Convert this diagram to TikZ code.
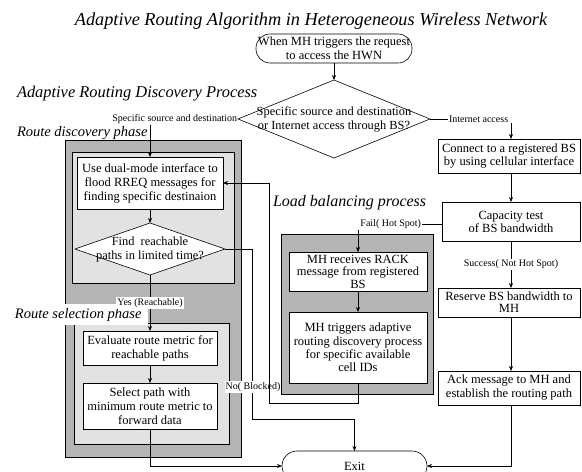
\documentclass[tikz,border=0pt]{standalone}
\usepackage{fontspec}
\setmainfont{Liberation Serif}
\usetikzlibrary{arrows.meta,shapes.geometric}
\definecolor{boxgray}{RGB}{180,180,180}
\definecolor{dotfill}{RGB}{226,226,226}
\begin{document}
\begin{tikzpicture}[x=1pt,y=-1pt,
  every node/.style={inner sep=0pt, outer sep=0pt},
  fbox/.style={draw, fill=white, align=center, font=\fontsize{12.5}{14}\selectfont, line width=0.6pt},
  term/.style={fbox, rounded corners=14pt},
  dshape/.style={draw, fill=white, shape=diamond, line width=0.6pt},
  dtext/.style={align=center, font=\fontsize{12.4}{14.5}\selectfont},
  lbl/.style={font=\fontsize{10}{12}\selectfont, inner sep=1pt},
  wlbl/.style={lbl, fill=white},
  head/.style={anchor=base west},
  arr/.style={-{Stealth[length=5pt,width=4pt]}, line width=0.6pt},
  ln/.style={line width=0.6pt},
  grayarea/.style={draw, fill=boxgray, line width=0.6pt},
  dotarea/.style={draw, fill=dotfill, line width=0.6pt}
]
\useasboundingbox (0,0) rectangle (582,472);
\clip (0,0) rectangle (582,472);

% shaded areas
\draw[grayarea] (65,140) rectangle (241,457);
\draw[dotarea] (72,152) rectangle (234,283);
\draw[dotarea] (74,323) rectangle (229,444);
\draw[grayarea] (281,234) rectangle (433,394);

% headings
\node[anchor=base, font=\itshape\fontsize{18.3}{20}\selectfont] (title) at (311,25) {Adaptive Routing Algorithm in Heterogeneous Wireless Network};
\node[head, font=\itshape\fontsize{16.4}{18}\selectfont] (hadp) at (17,97) {Adaptive Routing Discovery Process};
\node[head, font=\itshape\fontsize{14.5}{16}\selectfont] (hrd) at (17,136) {Route discovery phase};
\node[head, font=\itshape\fontsize{14.5}{16}\selectfont, fill=white, inner xsep=7pt, inner ysep=4pt] (hrs) at (8,318) {Route selection phase};
\node[head, font=\itshape\fontsize{16}{18}\selectfont] (hlb) at (273,206) {Load balancing process};

% nodes
\node[term, minimum width=156pt, minimum height=29pt] (start) at (334,48.5) {When MH triggers the request\\to access the HWN};
\node[dshape, minimum width=192pt, minimum height=78pt] (d1) at (334,119) {};
\node[dtext] (d1t) at (334,119.5) {Specific source and destination\\or Internet access through BS?};

\node[fbox, minimum width=146pt, minimum height=52pt] (dual) at (150,183) {Use dual-mode interface to\\flood RREQ messages for\\finding specific destinaion};
\node[dshape, minimum width=150pt, minimum height=52pt] (d2) at (150,249) {};
\node[dtext] (d2t) at (150,249.5) {Find~ reachable\\paths in limited time?};
\node[fbox, minimum width=134pt, minimum height=34pt] (eval) at (150,348) {Evaluate route metric for\\reachable paths};
\node[fbox, minimum width=134pt, minimum height=46pt] (sel) at (150,406) {Select path with\\minimum route metric to\\forward data};

\node[fbox, font=\fontsize{12.5}{12.5}\selectfont, minimum width=138pt, minimum height=39pt] (mh1) at (358,271.5) {MH receives RACK\\message from registered\\BS};
\node[fbox, font=\fontsize{12.5}{13.3}\selectfont, minimum width=138pt, minimum height=71pt] (mh2) at (358,347.5) {MH triggers adaptive\\routing discovery process\\for specific available\\cell IDs};

\node[fbox, font=\fontsize{12.5}{13}\selectfont, minimum width=142pt, minimum height=34pt] (conn) at (509,156) {Connect to a registered BS\\by using cellular interface};
\node[fbox, font=\fontsize{12.5}{13}\selectfont, minimum width=138pt, minimum height=39pt] (cap) at (511,221.5) {Capacity test\\of BS bandwidth};
\node[fbox, font=\fontsize{12.5}{12}\selectfont, minimum width=142pt, minimum height=29pt] (res) at (509,302.5) {Reserve BS bandwidth to\\MH};
\node[fbox, minimum width=142pt, minimum height=34pt] (ack) at (509,388) {Ack message to MH and\\establish the routing path};
\node[term, rounded corners=15pt, minimum width=145pt, minimum height=30pt] (exit) at (354.5,466) {Exit};

% labels
\node[lbl, anchor=east] (lss) at (d1.west) {Specific source and destination};
\node[lbl, anchor=west] (lia) at ([xshift=18pt]d1.east) {Internet access};
\node[lbl, anchor=east] (lfail) at (422,224) {Fail( Hot Spot)};

% connectors
\draw[arr] (start.south) -- (d1.north);
\draw[arr] (lss.south -| dual.north) -- (dual.north);
\draw[ln] (d1.east) -- (lia.west);
\draw[arr] (lia.south -| cap.north) -- (conn.north -| cap.north);
\draw[arr] (conn.south -| cap.north) -- (cap.north);
\draw[ln] (lfail.east) -- (lfail.east -| cap.west);
\draw[arr] (lfail.south -| mh1.north) -- (mh1.north);
\draw[arr] (cap.south) -- node[wlbl] (lsuc) {Success( Not Hot Spot)} (res.north -| cap.south);
\draw[arr] (res.south -| cap.south) -- (ack.north -| cap.south);
\draw[arr] (ack.south -| cap.south) |- (exit.east);

\draw[arr] (dual.south) -- (d2.north);
\draw[arr] (d2.south) -- node[wlbl] (lyes) {Yes (Reachable)} (eval.north);
\draw[arr] (eval.south) -- (sel.north);
\draw[arr] (sel.south) |- (exit.west);
\draw[arr] (mh1.south) -- (mh2.north);

\coordinate (nb1) at (252,249);
\coordinate (nb2) at (252,419);
\draw[arr] (d2.east) -- (nb1) -- (nb2) -| (exit.north);
\node[wlbl] (lno) at (253,387) {No( Blocked)};

\coordinate (fb1) at (269,403);
\draw[arr] (mh2.south) -- (mh2.south |- fb1) -- (fb1) -- (fb1 |- dual.east) -- (dual.east);
\end{tikzpicture}
\end{document}
